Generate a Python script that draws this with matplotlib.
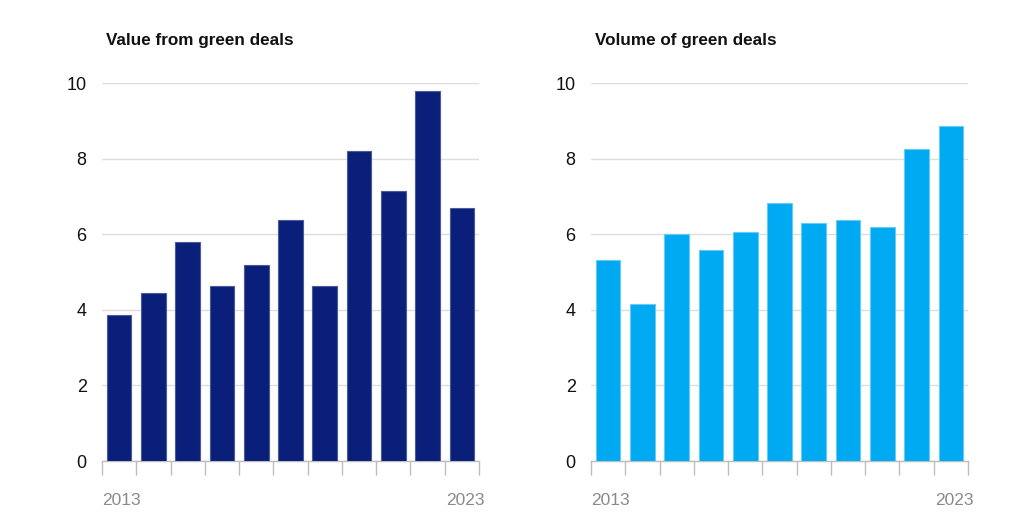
import matplotlib.pyplot as plt
import numpy as np

years = [str(y) for y in range(2013, 2024)]
value_green = [3.87, 4.45, 5.8, 4.63, 5.18, 6.37, 4.62, 8.2, 7.15, 9.8, 6.7]
volume_green = [5.33, 4.15, 6.0, 5.58, 6.05, 6.83, 6.3, 6.37, 6.2, 8.25, 8.88]
titles = ['Value from green deals', 'Volume of green deals']
colors = ['#0a1f7a', '#00aaf2']
edges = ['#4a5a9e', '#66ccf6']

plt.rcParams['font.family'] = ['Liberation Sans', 'DejaVu Sans']

fig = plt.figure(figsize=(10.26, 5.2), dpi=100)
W, H = 1026, 520
panels = [(102, value_green), (591, volume_green)]

for i, (x0, vals) in enumerate(panels):
    ax = fig.add_axes([x0 / W, (H - 461) / H, 377 / W, 378.5 / H])
    x = np.arange(len(vals))
    ax.bar(x, vals, width=0.72, color=colors[i], edgecolor=edges[i], linewidth=0.8, zorder=3)
    ax.set_xlim(-0.5, len(vals) - 0.5)
    ax.set_ylim(0, 10.02)
    ax.set_yticks([0, 2, 4, 6, 8, 10])
    ax.set_yticklabels(['0', '2', '4', '6', '8', '10'], fontsize=13, color='#111111')
    ax.tick_params(axis='y', length=0, pad=11)
    ax.set_xticks(np.arange(-0.5, len(vals), 1))
    ax.set_xticklabels([])
    ax.tick_params(axis='x', length=10, width=1, color='#bdbdbd', direction='out')
    ax.grid(axis='y', color='#dddddd', linewidth=1, zorder=0)
    for s in ['top', 'right', 'left']:
        ax.spines[s].set_visible(False)
    ax.spines['bottom'].set_color('#bdbdbd')
    ax.spines['bottom'].set_linewidth(1)
    ax.text(-0.5, -1.05, years[0], ha='left', va='center', fontsize=12.5, color='#8a8a8a')
    ax.text(len(vals) - 0.35, -1.05, years[-1], ha='right', va='center', fontsize=12.5, color='#8a8a8a')
    fig.text((x0 + 4) / W, 1 - 40 / H, titles[i], ha='left', va='center',
             fontsize=12.3, fontweight='bold', color='#111111')

fig.savefig('out.png', dpi=100)
